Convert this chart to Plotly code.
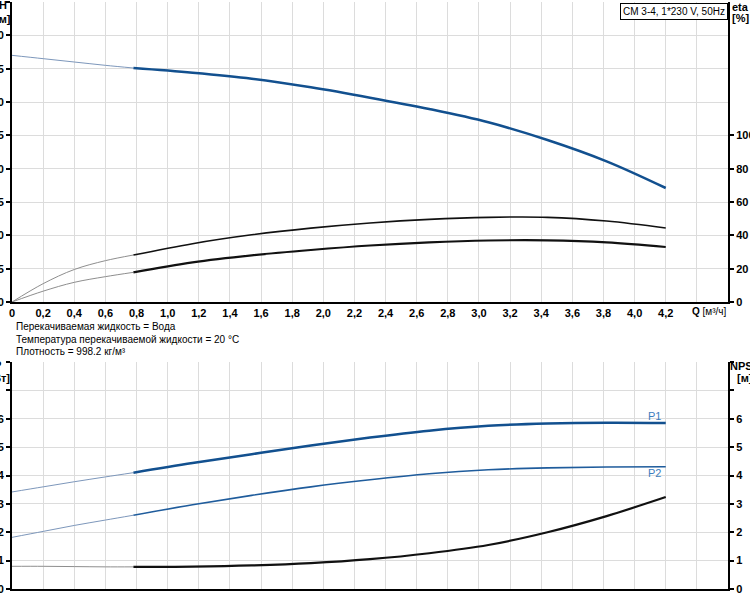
import plotly.graph_objects as go

# ---------------- data ----------------
q_thin = [0.0, 0.2, 0.4, 0.6, 0.78]
q_main = [0.78, 1.16, 1.54, 1.92, 2.30, 2.68, 3.06, 3.44, 3.82, 4.20]

h_thin = [37.0, 36.5, 36.0, 35.5, 35.1]
h_main = [35.1, 34.4, 33.5, 32.2, 30.65, 28.95, 26.95, 24.3, 21.1, 17.1]

eta1_thin = [0.0, 11.0, 19.5, 24.8, 28.2]
eta1_main = [28.2, 35.0, 40.3, 44.3, 47.4, 49.6, 50.8, 50.8, 48.6, 44.4]

eta2_thin = [0.0, 6.5, 11.8, 15.2, 17.8]
eta2_main = [17.8, 23.8, 28.0, 31.2, 33.9, 35.8, 36.9, 37.0, 35.8, 33.0]

p1_thin = [3.42, 3.6, 3.78, 3.95, 4.1]
p1_main = [4.1, 4.44, 4.75, 5.06, 5.34, 5.58, 5.75, 5.83, 5.86, 5.85]

p2_thin = [1.82, 2.03, 2.24, 2.43, 2.6]
p2_main = [2.6, 2.97, 3.3, 3.6, 3.85, 4.06, 4.2, 4.27, 4.3, 4.31]

npsh_thin = [0.8, 0.8, 0.79, 0.78, 0.78]
npsh_main = [0.78, 0.79, 0.83, 0.91, 1.05, 1.26, 1.55, 2.0, 2.57, 3.24]

x_ticks = [round(i * 0.2, 1) for i in range(24)]
x_labels = [("%.1f" % v).replace(".", ",") if v <= 4.2 else "" for v in x_ticks]
x_labels[0] = "0"
h_ticks = [0, 5, 10, 15, 20, 25, 30, 35, 40, 45]
h_labels = ["0", "5", "10", "15", "20", "25", "30", "35", "40", ""]
eta_ticks = [0, 20, 40, 60, 80, 100]
eta_labels = ["0", "20", "40", "60", "80", "100"]
p_ticks = [0, 1, 2, 3, 4, 5, 6, 7, 8]
p_labels = ["0", "1", "2", "3", "4", "5", "6", "", ""]

title_text = "CM 3-4, 1*230 V, 50Hz"
info_lines = ["Перекачиваемая жидкость = Вода",
              "Температура перекачиваемой жидкости = 20 °C",
              "Плотность = 998.2 кг/м³"]

# ---------------- styles ----------------
FONT = "Liberation Sans, Arial, sans-serif"
BLUE = "#12508f"
BLUE2 = "#1f5c9c"
THIN_BLUE = "#7d97bb"
THIN_GREY = "#8e8e8e"
GRID = "#dcdcdc"

W, H = 750, 600
L, R, T, B = 12, 22, 2, 11
PH = H - T - B
top_dom = [(H - B - 302) / PH, 1.0]
bot_dom = [0.0, (H - B - 362) / PH]

fig = go.Figure()

def add(x, y, xa, ya, color, width):
    fig.add_trace(go.Scatter(x=x, y=y, xaxis=xa, yaxis=ya, mode="lines",
                             line=dict(color=color, width=width, shape="spline", smoothing=1.0),
                             hoverinfo="skip", showlegend=False))

# top chart
add(q_thin, h_thin, "x", "y", THIN_BLUE, 1)
add(q_main, h_main, "x", "y", BLUE, 2.5)
add(q_thin, eta1_thin, "x", "y2", THIN_GREY, 1)
add(q_main, eta1_main, "x", "y2", "#111111", 1.6)
add(q_thin, eta2_thin, "x", "y2", THIN_GREY, 1)
add(q_main, eta2_main, "x", "y2", "#111111", 2.2)
# bottom chart
add(q_thin, p1_thin, "x2", "y3", THIN_BLUE, 1)
add(q_main, p1_main, "x2", "y3", BLUE, 2.5)
add(q_thin, p2_thin, "x2", "y3", THIN_BLUE, 1)
add(q_main, p2_main, "x2", "y3", BLUE2, 1.6)
add(q_thin, npsh_thin, "x2", "y4", THIN_GREY, 1)
add(q_main, npsh_main, "x2", "y4", "#111111", 2.2)

tickfont = dict(family=FONT, size=11, color="black", weight="bold")
axis_common = dict(showline=True, linecolor="black", linewidth=2, zeroline=False,
                   gridcolor=GRID, gridwidth=1, automargin=False, fixedrange=True)

fig.update_layout(
    width=W, height=H, template="none",
    paper_bgcolor="white", plot_bgcolor="white",
    margin=dict(l=L, r=R, t=T, b=B, pad=0),
    showlegend=False,
    xaxis=dict(axis_common, domain=[0, 1], anchor="y", range=[0, 4.6],
               tickmode="array", tickvals=x_ticks, ticktext=x_labels,
               ticks="", tickfont=tickfont, showgrid=True),
    yaxis=dict(axis_common, domain=top_dom, anchor="x", range=[0, 45],
               tickmode="array", tickvals=h_ticks, ticktext=h_labels,
               ticks="outside", ticklen=4, tickwidth=1.5, tickcolor="black",
               tickfont=tickfont, showgrid=True),
    yaxis2=dict(axis_common, overlaying="y", side="right", anchor="x", range=[0, 180],
                tickmode="array", tickvals=eta_ticks, ticktext=eta_labels,
                ticks="outside", ticklen=4, tickwidth=1.5, tickcolor="black",
                tickfont=tickfont, showgrid=False),
    xaxis2=dict(axis_common, domain=[0, 1], anchor="y3", range=[0, 4.6],
                tickmode="array", tickvals=x_ticks, showticklabels=False,
                ticks="", showgrid=True),
    yaxis3=dict(axis_common, domain=bot_dom, anchor="x2", range=[0, 8],
                tickmode="array", tickvals=p_ticks, ticktext=p_labels,
                ticks="outside", ticklen=4, tickwidth=1.5, tickcolor="black",
                tickfont=tickfont, showgrid=True),
    yaxis4=dict(axis_common, overlaying="y3", side="right", anchor="x2", range=[0, 8],
                tickmode="array", tickvals=p_ticks, ticktext=p_labels,
                ticks="outside", ticklen=4, tickwidth=1.5, tickcolor="black",
                tickfont=tickfont, showgrid=False),
)

def py(p):
    return (H - B - p) / PH

def px(p):
    return (p - L) / (W - L - R)

ann = []
lab_font = dict(family=FONT, size=11, color="black", weight="bold")
# axis titles
ann.append(dict(text="H", x=px(3), y=py(5), xanchor="center", yanchor="middle", font=lab_font))
ann.append(dict(text="[м]", x=px(3), y=py(19), xanchor="center", yanchor="middle", font=lab_font))
ann.append(dict(text="eta", x=px(740), y=py(7), xanchor="center", yanchor="middle", font=lab_font))
ann.append(dict(text="[%]", x=px(740), y=py(18), xanchor="center", yanchor="middle", font=lab_font))
ann.append(dict(text="P", x=px(-3), y=py(365), xanchor="center", yanchor="middle", font=lab_font))
ann.append(dict(text="[кВт]", x=px(-3), y=py(378), xanchor="center", yanchor="middle", font=lab_font))
ann.append(dict(text="NPSH", x=px(745), y=py(366), xanchor="center", yanchor="middle", font=lab_font))
ann.append(dict(text="[м]", x=px(745), y=py(378), xanchor="center", yanchor="middle", font=lab_font))
ann.append(dict(text="<b>Q</b> [м³/ч]", x=px(690), y=py(311), xanchor="left", yanchor="middle",
                font=dict(family=FONT, size=10, color="black")))
# info text
for i, t in enumerate(info_lines):
    ann.append(dict(text=t, x=px(14), y=py(326.5 + 12.5 * i), xanchor="left", yanchor="middle",
                    font=dict(family=FONT, size=10, color="black")))
# title box
ann.append(dict(text=title_text, x=1, y=py(3), xanchor="right", yanchor="top",
                bordercolor="black", borderwidth=1, borderpad=2, bgcolor="white",
                font=dict(family=FONT, size=10, color="black")))
for a in ann:
    a.update(xref="paper", yref="paper", showarrow=False)
# curve labels
ann.append(dict(text="P1", x=4.13, y=6.1, xref="x2", yref="y3", showarrow=False,
                font=dict(family=FONT, size=11, color="#3d7dbd")))
ann.append(dict(text="P2", x=4.13, y=4.1, xref="x2", yref="y3", showarrow=False,
                font=dict(family=FONT, size=11, color="#3d7dbd")))
fig.update_layout(annotations=ann)

fig.write_html("out.html")
